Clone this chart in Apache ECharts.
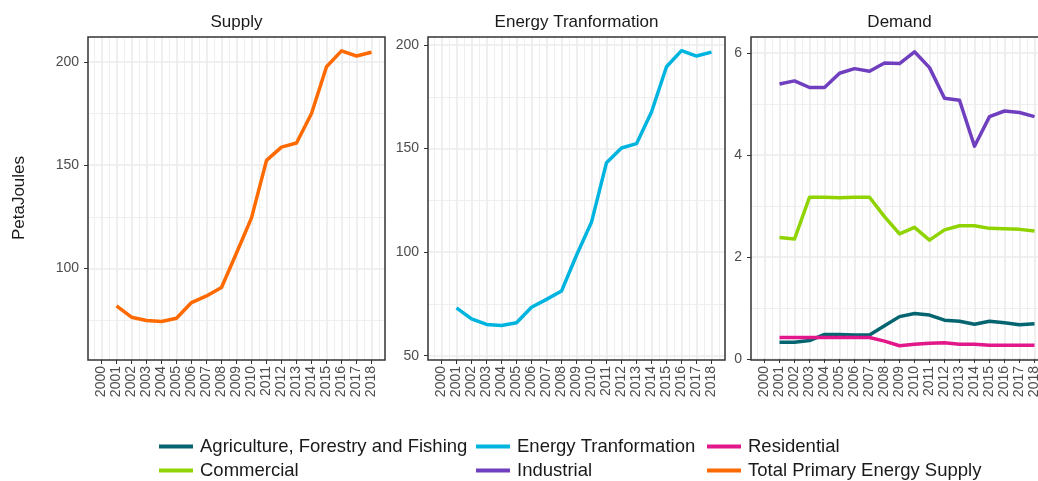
<!DOCTYPE html>
<html><head><meta charset="utf-8">
<script src="https://cdn.jsdelivr.net/npm/echarts@6/dist/echarts.min.js"></script>
<style>html,body{margin:0;padding:0;background:#fff;overflow:hidden;width:1038px;height:481px}#c{width:1060px;height:481px}</style>
</head><body><div id="c"></div>
<script>
const years = [2001,2002,2003,2004,2005,2006,2007,2008,2009,2010,2011,2012,2013,2014,2015,2016,2017,2018];
const tickYears = [2000,2001,2002,2003,2004,2005,2006,2007,2008,2009,2010,2011,2012,2013,2014,2015,2016,2017,2018];
const halfYears = [1999.5,2000.5,2001.5,2002.5,2003.5,2004.5,2005.5,2006.5,2007.5,2008.5,2009.5,2010.5,2011.5,2012.5,2013.5,2014.5,2015.5,2016.5,2017.5,2018.5];

const totalSupply = [81.9,76.4,74.8,74.3,75.9,83.5,86.7,90.8,107.5,124.5,152.3,158.7,160.7,175.0,197.6,205.3,202.8,204.6];
const energyTransformation = [73.1,67.8,65.1,64.6,65.9,73.4,77.2,81.2,98.5,114.5,143.2,150.3,152.4,167.7,189.5,197.3,194.7,196.6];
const agriculture = [0.33,0.33,0.36,0.48,0.48,0.47,0.47,0.65,0.83,0.89,0.86,0.76,0.74,0.68,0.74,0.71,0.67,0.69];
const commercial = [2.38,2.35,3.17,3.17,3.16,3.17,3.17,2.79,2.45,2.58,2.33,2.53,2.61,2.61,2.56,2.55,2.54,2.51];
const industrial = [5.39,5.45,5.32,5.32,5.60,5.69,5.64,5.80,5.79,6.02,5.71,5.11,5.07,4.17,4.75,4.86,4.83,4.75];
const residential = [0.42,0.42,0.42,0.42,0.42,0.42,0.42,0.35,0.26,0.29,0.31,0.32,0.29,0.29,0.27,0.27,0.27,0.27];

const panelTitles = ['Supply','Energy Tranformation','Demand'];
const yTitle = 'PetaJoules';
const supplyTicks = [100,150,200], supplyMinor = [75,125,175];
const transTicks = [50,100,150,200], transMinor = [75,125,175];
const demandTicks = [0,2,4,6], demandMinor = [1,3,5];

const FONT = '"Liberation Sans", Arial, Helvetica, sans-serif';
const COLORS = {
  'Agriculture, Forestry and Fishing': '#04646f',
  'Commercial': '#8fd400',
  'Energy Tranformation': '#00b4e0',
  'Industrial': '#6f3fbf',
  'Residential': '#e2188a',
  'Total Primary Energy Supply': '#ff6a00'
};

const panels = [
  {left: 88, yMin: 55.7, yMax: 212, ticks: supplyTicks, minor: supplyMinor,
   series: [['Total Primary Energy Supply', totalSupply]]},
  {left: 428, yMin: 47.9, yMax: 203.9, ticks: transTicks, minor: transMinor,
   series: [['Energy Tranformation', energyTransformation]]},
  {left: 751, yMin: -0.02, yMax: 6.31, ticks: demandTicks, minor: demandMinor,
   series: [['Agriculture, Forestry and Fishing', agriculture], ['Commercial', commercial],
            ['Industrial', industrial], ['Residential', residential]]}
];
const PW = 297, TOP = 37, PH = 323;

const grid = [], xAxis = [], yAxis = [], series = [], graphic = [];
panels.forEach((p, i) => {
  grid.push({left: p.left, top: TOP, width: PW, height: PH, show: true, z: 5,
    borderColor: '#333333', borderWidth: 1.5, backgroundColor: 'rgba(0,0,0,0)', containLabel: false});
  const majorLine = {show: true, lineStyle: {color: '#ebebeb', width: 1.6}};
  const minorLine = {show: true, lineStyle: {color: '#ededed', width: 0.9}};
  xAxis.push({type: 'value', gridIndex: i, min: 1999.1, max: 2018.9, z: 0,
    axisLine: {show: false},
    axisTick: {show: true, customValues: tickYears, length: 4, lineStyle: {color: '#333333', width: 1}},
    axisLabel: {customValues: tickYears, rotate: 90, margin: 6, fontSize: 14, color: '#4d4d4d', fontFamily: FONT,
      formatter: v => String(v)},
    splitLine: majorLine});
  xAxis.push({type: 'value', gridIndex: i, min: 1999.1, max: 2018.9, z: 0,
    axisLine: {show: false}, axisTick: {show: false, customValues: halfYears},
    axisLabel: {show: false, customValues: halfYears}, splitLine: minorLine});
  yAxis.push({type: 'value', gridIndex: i, min: p.yMin, max: p.yMax, z: 0,
    axisLine: {show: false},
    axisTick: {show: true, customValues: p.ticks, length: 4, lineStyle: {color: '#333333', width: 1}},
    axisLabel: {customValues: p.ticks, margin: 9, fontSize: 14, color: '#4d4d4d', fontFamily: FONT,
      formatter: v => String(v)},
    splitLine: majorLine});
  yAxis.push({type: 'value', gridIndex: i, min: p.yMin, max: p.yMax, z: 0,
    axisLine: {show: false}, axisTick: {show: false, customValues: p.minor},
    axisLabel: {show: false, customValues: p.minor}, splitLine: minorLine});
  p.series.forEach(([name, arr]) => {
    series.push({type: 'line', name, xAxisIndex: 2 * i, yAxisIndex: 2 * i,
      data: years.map((y, k) => [y, arr[k]]), showSymbol: false, symbol: 'none',
      color: COLORS[name],
      lineStyle: {width: 3.5, color: COLORS[name], join: 'round', cap: 'butt'},
      emphasis: {disabled: true}, z: 6});
  });
  graphic.push({type: 'text', x: p.left + PW / 2, y: 22, silent: true,
    style: {text: panelTitles[i], fontSize: 17, fontFamily: FONT, fill: '#1a1a1a',
      align: 'center', verticalAlign: 'middle', textAlign: 'center', textVerticalAlign: 'middle'}});
});
graphic.push({type: 'text', x: 19, y: 198, rotation: Math.PI / 2, silent: true,
  style: {text: yTitle, fontSize: 17, fontFamily: FONT, fill: '#1a1a1a',
    align: 'center', verticalAlign: 'middle', textAlign: 'center', textVerticalAlign: 'middle'}});

const legendLayout = [
  ['Agriculture, Forestry and Fishing', 159, 437],
  ['Commercial', 159, 461],
  ['Energy Tranformation', 476, 437],
  ['Industrial', 476, 461],
  ['Residential', 707, 437],
  ['Total Primary Energy Supply', 707, 461]
];
const legend = legendLayout.map(([name, x, y]) => ({
  data: [name], left: x, top: y, padding: 0, icon: 'rect', itemWidth: 34, itemHeight: 4,
  itemGap: 0, selectedMode: false,
  textStyle: {fontSize: 18.5, color: '#1a1a1a', fontFamily: FONT, padding: [0, 0, 0, 2]}
}));

const chart = echarts.init(document.getElementById('c'), null, {renderer: 'canvas'});
chart.setOption({
  animation: false,
  backgroundColor: '#ffffff',
  grid, xAxis, yAxis, series, legend, graphic
});
</script>
</body></html>
